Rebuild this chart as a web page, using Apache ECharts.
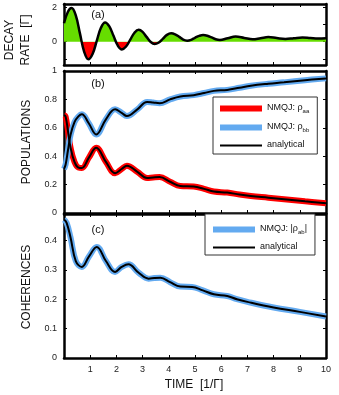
<!DOCTYPE html>
<html>
<head>
<meta charset="utf-8">
<script src="https://cdn.jsdelivr.net/npm/echarts@6/dist/echarts.min.js"></script>
<style>
  html, body { margin: 0; padding: 0; background: #fff; }
  #chart { width: 339px; height: 395px; }
</style>
</head>
<body>
<div id="chart"></div>
<script>
// ----------------------
// Dados
// ----------------------
// (a) taxa de decaimento
const timeGamma = [0, 0.15, 0.29, 0.45, 0.61, 0.77, 0.93, 1.09, 1.25, 1.41, 1.57, 1.73, 1.89, 2.05, 2.21, 2.37, 2.53, 2.69, 2.85, 3.0, 3.15, 3.31, 3.46, 3.62, 3.78, 3.93, 4.09, 4.24, 4.4, 4.55, 4.7, 4.85, 5.0, 5.16, 5.31, 5.47, 5.63, 5.79, 5.95, 6.25, 6.55, 6.88, 7.2, 7.5, 7.8, 8.12, 8.45, 8.77, 9.1, 9.4, 9.7, 10];
const decayRate = [1.08, 1.75, 1.96, 1.53, 0.47, -0.59, -1.03, -0.72, 0.05, 0.81, 1.12, 0.89, 0.34, -0.22, -0.45, -0.28, 0.12, 0.52, 0.69, 0.57, 0.28, -0.02, -0.14, -0.05, 0.18, 0.4, 0.49, 0.43, 0.28, 0.12, 0.06, 0.11, 0.23, 0.34, 0.39, 0.35, 0.25, 0.14, 0.1, 0.2, 0.3, 0.22, 0.14, 0.2, 0.27, 0.21, 0.16, 0.2, 0.24, 0.21, 0.18, 0.2];

// (b) populações
const timePop = [0, 0.06, 0.15, 0.25, 0.4, 0.55, 0.68, 0.95, 1.23, 1.6, 1.95, 2.2, 2.4, 2.8, 3.17, 3.4, 3.65, 4.05, 4.44, 4.95, 5.35, 5.72, 6.23, 6.7, 7.13, 7.8, 8.4, 9.2, 10];
const rhoAA = [0.69, 0.68, 0.58, 0.46, 0.36, 0.32, 0.317, 0.39, 0.459, 0.36, 0.28, 0.31, 0.333, 0.29, 0.246, 0.25, 0.253, 0.22, 0.19, 0.187, 0.17, 0.151, 0.144, 0.13, 0.12, 0.108, 0.097, 0.082, 0.069];
const rhoBB = [0.31, 0.34, 0.44, 0.55, 0.64, 0.68, 0.695, 0.63, 0.553, 0.66, 0.73, 0.705, 0.683, 0.73, 0.782, 0.778, 0.773, 0.80, 0.82, 0.83, 0.845, 0.86, 0.867, 0.882, 0.896, 0.91, 0.92, 0.935, 0.948];

// (c) coerências
const timeCoh = [0, 0.1, 0.25, 0.45, 0.68, 0.95, 1.25, 1.6, 1.95, 2.2, 2.46, 2.85, 3.23, 3.45, 3.68, 4.05, 4.44, 4.89, 5.3, 5.72, 6.23, 6.6, 7, 8, 9, 10];
const rhoAB = [0.471, 0.46, 0.41, 0.33, 0.31, 0.345, 0.378, 0.33, 0.293, 0.31, 0.319, 0.29, 0.27, 0.272, 0.273, 0.258, 0.243, 0.242, 0.23, 0.217, 0.211, 0.2, 0.191, 0.172, 0.157, 0.141];

const gammaLabelTicks = [0, 2];
const gammaTicks = [-1, 0, 1, 2];

// ----------------------
// Cores e estilos
// ----------------------
const COLOR_GREEN = '#66dd00';
const COLOR_RED = '#ff0000';
const COLOR_BLUE = '#63aaf0';
const COLOR_BLACK = '#000';
const FONT = 'Liberation Sans, Arial, sans-serif';

const pairs = (xs, ys) => xs.map((x, i) => [x, ys[i]]);

const grids = [
  { left: 64, right: 13, top: 4, height: 61 },
  { left: 64, right: 13, top: 71, height: 142 },
  { left: 64, right: 13, top: 214, height: 144 }
];

const frameLine = { show: true, onZero: false, lineStyle: { color: COLOR_BLACK, width: 2.5 } };
const innerTick = { show: true, inside: true, length: 3, lineStyle: { color: COLOR_BLACK, width: 1 } };
const tickFont = { fontSize: 9, color: '#222', fontFamily: FONT };

function xAxes(gridIndex, showLabels) {
  const base = { type: 'value', gridIndex, min: 0, max: 10, interval: 1, axisLine: frameLine, axisTick: innerTick, splitLine: { show: false } };
  return [
    { ...base, position: 'bottom', axisLabel: { ...tickFont, show: showLabels, showMinLabel: false, margin: 7 } },
    { ...base, position: 'top', axisLabel: { show: false } }
  ];
}

function yAxes(gridIndex, extra, label, tick) {
  const base = { type: 'value', gridIndex, axisLine: frameLine, splitLine: { show: false }, ...extra };
  return [
    { ...base, position: 'left', axisTick: { ...innerTick, ...tick }, axisLabel: { ...tickFont, margin: 7, ...label } },
    { ...base, position: 'right', axisTick: { ...innerTick, ...tick }, axisLabel: { show: false } }
  ];
}

// legenda com subscritos
const legendNames = {
  'NMQJ: ρaa': '{t|NMQJ: ρ}{s|aa}',
  'NMQJ: ρbb': '{t|NMQJ: ρ}{s|bb}',
  'NMQJ: |ρab|': '{t|NMQJ: |ρ}{s|ab}{t||}',
  'analytical': '{t|analytical}'
};
const legendText = {
  fontSize: 9, color: '#111', fontFamily: FONT,
  rich: {
    t: { fontSize: 9, fontFamily: FONT, color: '#111', verticalAlign: 'top', lineHeight: 11 },
    s: { fontSize: 6, fontFamily: FONT, color: '#111', verticalAlign: 'bottom', lineHeight: 7, padding: [6, 0, 0, 0] }
  }
};
const ICON_THICK = 'path://M0,0H42V6H0Z';
const ICON_THIN = 'path://M0,0H42V2H0Z';
const legendBase = {
  orient: 'vertical', itemWidth: 42, itemHeight: 10, itemGap: 7, itemTextGap: 4,
  borderColor: '#333', borderWidth: 1, backgroundColor: '#fff', selectedMode: false,
  textStyle: legendText, formatter: name => legendNames[name]
};

function lineSeries(name, xi, data, color, width, z) {
  return {
    name, type: 'line', xAxisIndex: xi, yAxisIndex: xi, data,
    smooth: 0.4, symbol: 'none', z,
    lineStyle: { color, width }, itemStyle: { color }
  };
}

function textEl(text, x, y, size, rotate) {
  return {
    type: 'text', x, y, rotation: rotate ? Math.PI / 2 : 0,
    style: { text, fontSize: size, fontFamily: FONT, fill: '#111', align: 'center', verticalAlign: 'middle' }
  };
}

// ----------------------
// Gráfico
// ----------------------
const chart = echarts.init(document.getElementById('chart'));
chart.setOption({
  animation: false,
  grid: grids,
  xAxis: [...xAxes(0, false), ...xAxes(1, false), ...xAxes(2, true)],
  yAxis: [
    ...yAxes(0, { min: -1.36, max: 2.2 }, { customValues: gammaLabelTicks }, { customValues: gammaTicks }),
    ...yAxes(1, { min: 0, max: 1, interval: 0.2 }, {}, {}),
    ...yAxes(2, { min: 0, max: 0.49, interval: 0.1 }, { showMaxLabel: false }, {})
  ],
  visualMap: {
    show: false, type: 'piecewise', seriesIndex: 0, dimension: 1,
    pieces: [{ min: 0, max: 10, color: COLOR_GREEN }, { min: -10, max: 0, color: COLOR_RED }]
  },
  legend: [
    { ...legendBase, left: 213, top: 97, padding: [5, 8, 5, 7],
      data: [{ name: 'NMQJ: ρaa', icon: ICON_THICK }, { name: 'NMQJ: ρbb', icon: ICON_THICK }, { name: 'analytical', icon: ICON_THIN }] },
    { ...legendBase, left: 205, top: 214, padding: [9, 8, 4, 8],
      data: [{ name: 'NMQJ: |ρab|', icon: ICON_THICK }, { name: 'analytical', icon: ICON_THIN }] }
  ],
  series: [
    { type: 'line', xAxisIndex: 0, yAxisIndex: 0, data: pairs(timeGamma, decayRate), smooth: 0.4, symbol: 'none',
      lineStyle: { width: 0 }, areaStyle: { opacity: 1 }, z: 1 },
    lineSeries('decay', 0, pairs(timeGamma, decayRate), COLOR_BLACK, 2.5, 3),
    lineSeries('NMQJ: ρaa', 2, pairs(timePop, rhoAA), COLOR_RED, 6, 2),
    lineSeries('NMQJ: ρbb', 2, pairs(timePop, rhoBB), COLOR_BLUE, 6, 2),
    lineSeries('analytical', 2, pairs(timePop, rhoAA), COLOR_BLACK, 2, 3),
    lineSeries('analytical', 2, pairs(timePop, rhoBB), COLOR_BLACK, 2, 3),
    lineSeries('NMQJ: |ρab|', 4, pairs(timeCoh, rhoAB), COLOR_BLUE, 6, 2),
    lineSeries('analytical', 4, pairs(timeCoh, rhoAB), COLOR_BLACK, 2, 3)
  ],
  graphic: [
    textEl('(a)', 98, 15, 11),
    textEl('(b)', 98, 84, 11),
    textEl('(c)', 98, 230, 11),
    textEl('DECAY', 10, 40, 12, true),
    textEl('RATE  [Γ]', 26, 40, 12, true),
    textEl('POPULATIONS', 27, 142, 12, true),
    textEl('COHERENCES', 27, 287, 12, true),
    textEl('TIME  [1/Γ]', 194, 385, 12)
  ]
});

window.addEventListener('resize', () => chart.resize());
</script>
</body>
</html>
